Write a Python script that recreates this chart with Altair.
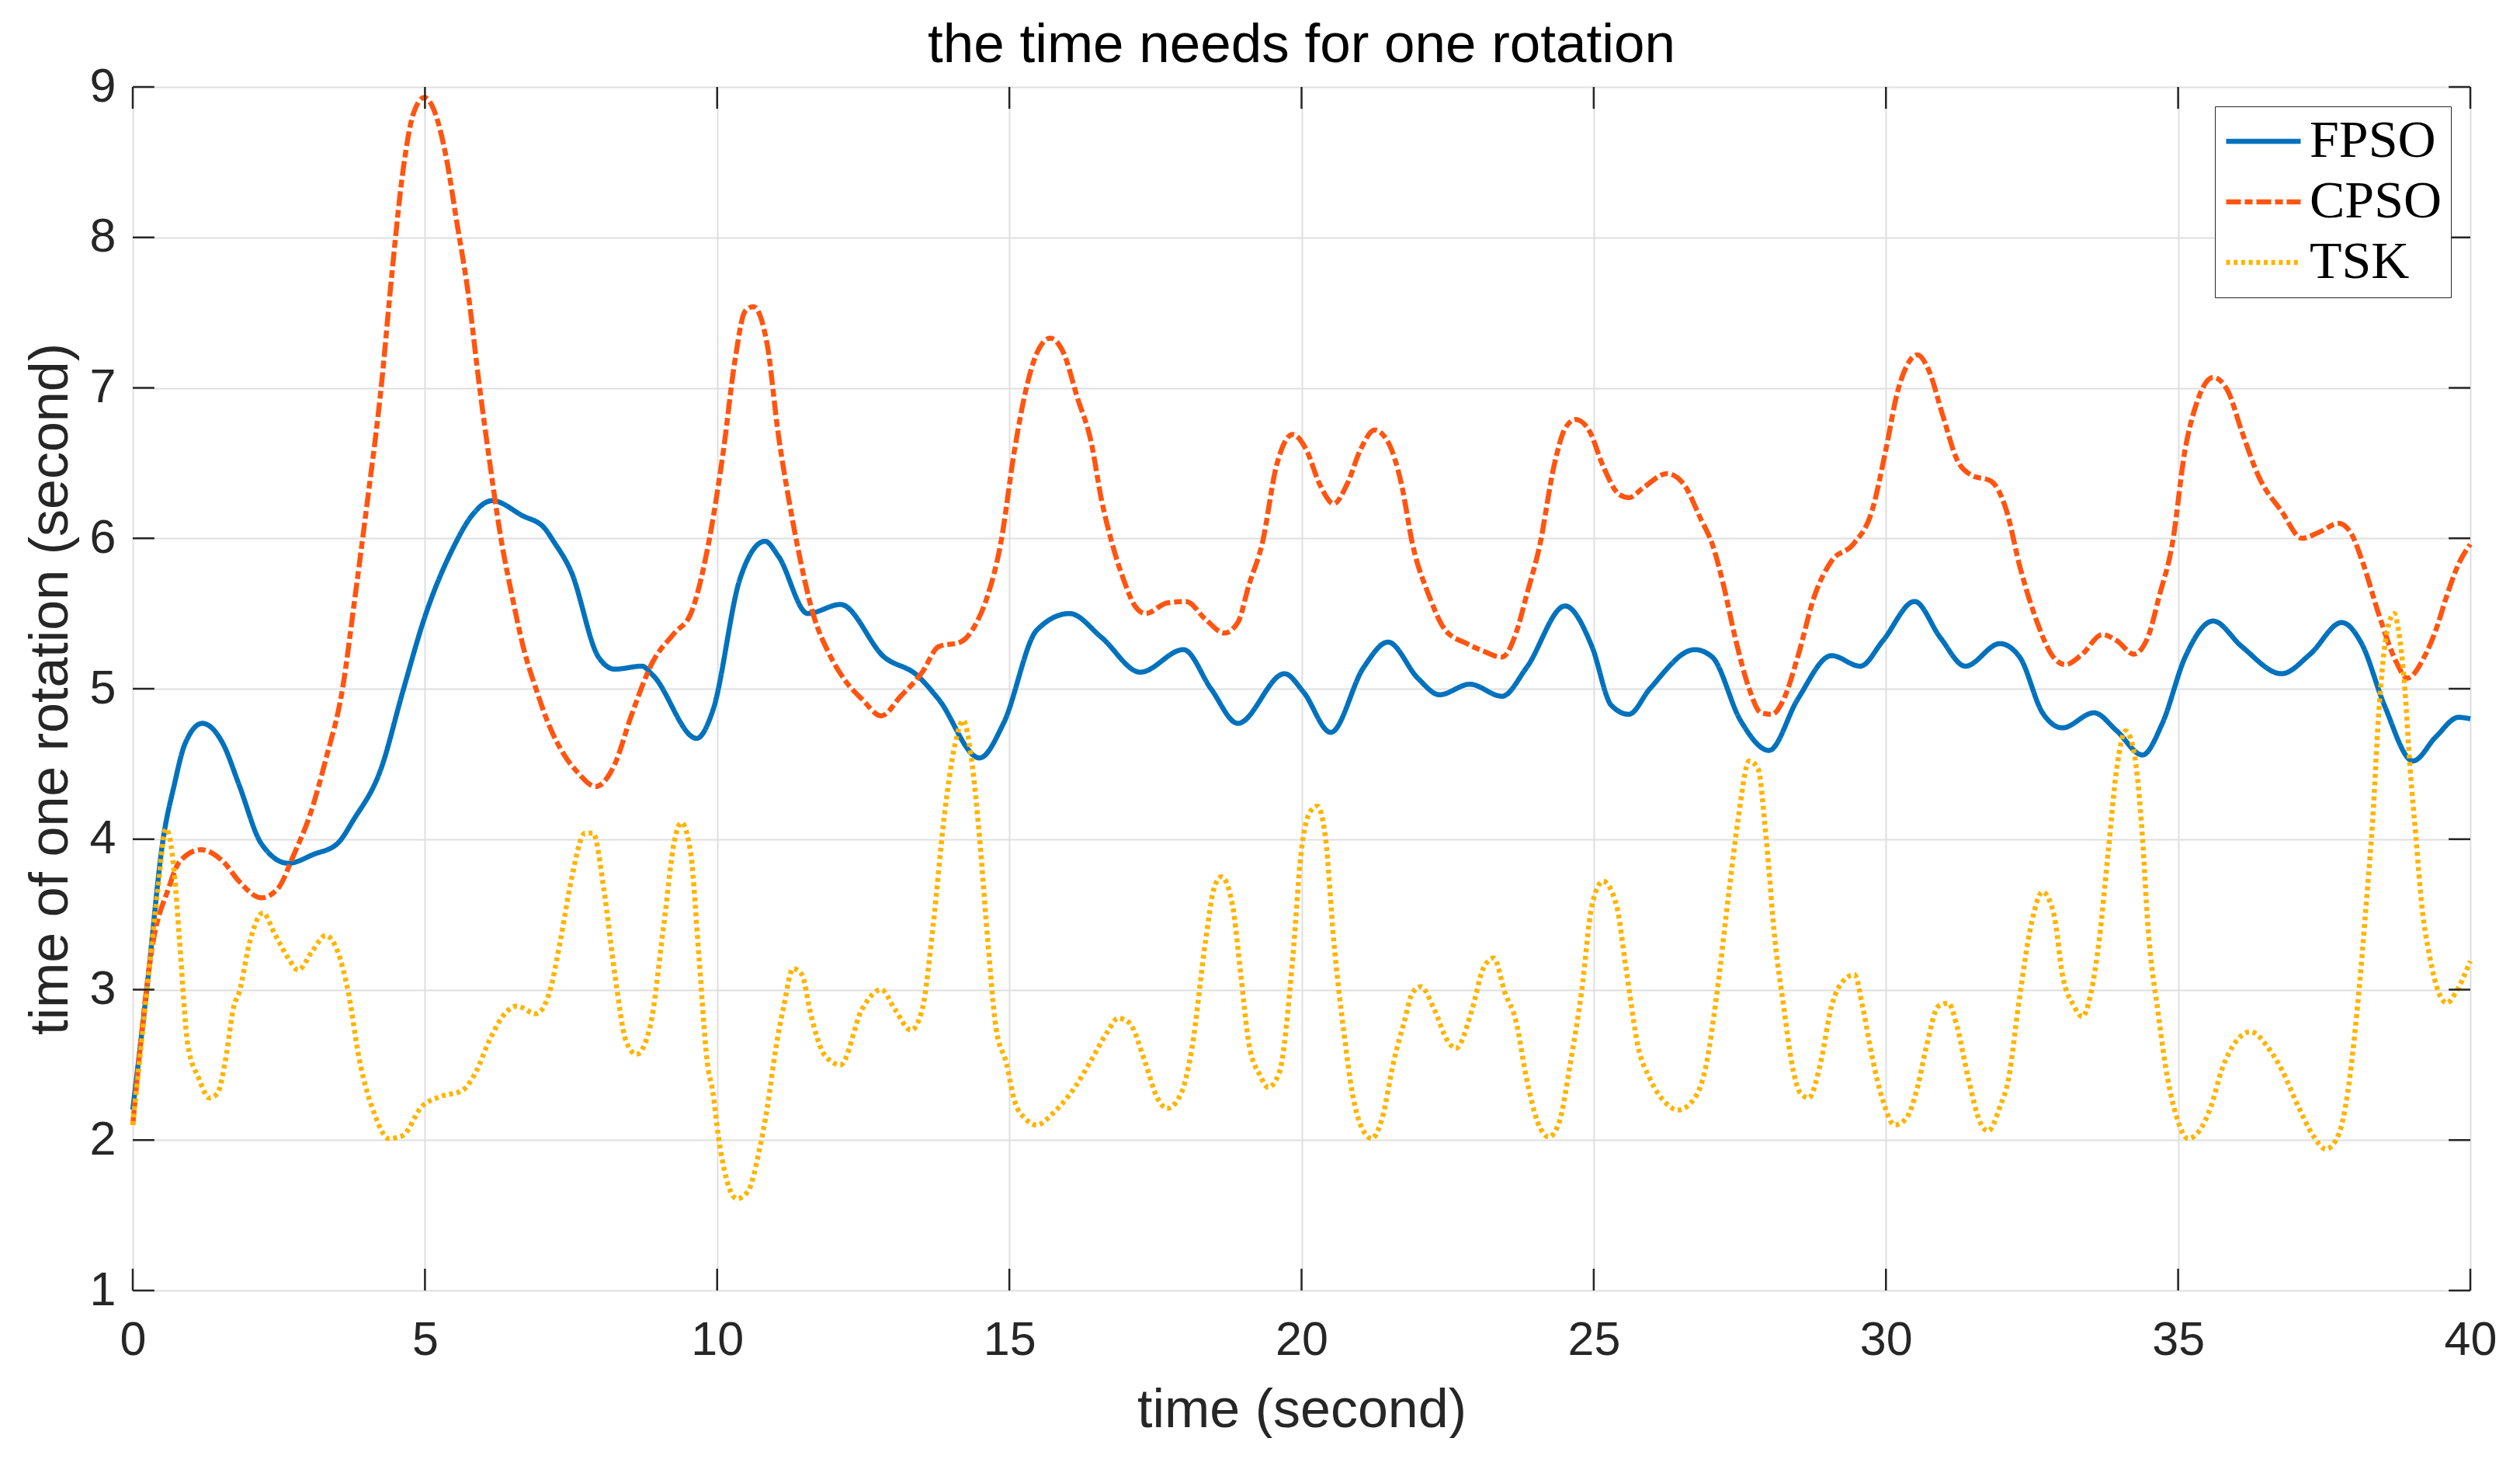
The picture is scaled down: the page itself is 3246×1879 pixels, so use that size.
import altair as alt
import pandas as pd

# ---------------- data ----------------
fpso_t = [0, 0.24, 0.52, 0.71, 0.89, 1.19, 1.55, 1.82, 2.2, 2.66, 3.1, 3.5, 3.78, 4.25, 4.62, 5.0,
          5.5, 5.8, 6.15, 6.67, 7.04, 7.2, 7.5, 7.97, 8.25, 8.71, 8.9, 9.65, 9.93, 10.39, 10.82, 11.05,
          11.55, 12.11, 12.86, 13.42, 13.79, 14.49, 14.9, 15.47, 16.03, 16.58, 17.24, 17.98, 18.45,
          18.91, 19.71, 20.03, 20.5, 21.06, 21.48, 21.99, 22.36, 22.88, 23.43, 23.85, 24.51, 24.97,
          25.3, 25.6, 25.96, 26.73, 27.03, 27.51, 28.0, 28.49, 29.07, 29.56, 29.95, 30.49, 30.93,
          31.36, 31.95, 32.29, 32.68, 33.02, 33.56, 33.95, 34.39, 34.73, 35.12, 35.6, 36.09, 36.77,
          37.26, 37.8, 38.14, 38.53, 39.02, 39.41, 39.8, 40.0]
fpso_v = [2.2, 3.0, 4.0, 4.36, 4.63, 4.77, 4.63, 4.36, 3.97, 3.84, 3.9, 3.97, 4.13, 4.47, 4.98, 5.48,
          5.95, 6.15, 6.25, 6.15, 6.07, 5.98, 5.78, 5.21, 5.13, 5.15, 5.09, 4.67, 4.86, 5.73, 5.98, 5.88,
          5.5, 5.56, 5.21, 5.09, 4.93, 4.54, 4.77, 5.39, 5.5, 5.34, 5.11, 5.26, 5.0,
          4.77, 5.1, 4.98, 4.71, 5.14, 5.31, 5.07, 4.96, 5.03, 4.95, 5.14, 5.55, 5.28,
          4.89, 4.83, 5.0, 5.26, 5.21, 4.79, 4.59, 4.93, 5.22, 5.15, 5.32, 5.58, 5.34,
          5.15, 5.3, 5.21, 4.84, 4.74, 4.84, 4.72, 4.56, 4.77, 5.21, 5.45, 5.28, 5.1,
          5.23, 5.44, 5.3, 4.89, 4.52, 4.68, 4.81, 4.8]

cpso_t = [0, 0.34, 0.61, 0.8, 1.17, 1.55, 1.82, 2.2, 2.48, 2.76, 3.04, 3.31, 3.59, 3.8, 4.0, 4.25,
          4.43, 4.62, 4.8, 4.99, 5.18, 5.36, 5.55, 5.74, 5.92, 6.11, 6.3, 6.5, 6.7, 6.9, 7.1,
          7.4, 7.6, 7.92, 8.25, 8.53, 8.9, 9.27, 9.55, 9.83, 10.11, 10.3, 10.48, 10.62, 10.86, 11.04,
          11.23, 11.4, 11.64, 11.92, 12.2, 12.48, 12.81, 13.14, 13.51, 13.79, 14.16, 14.44, 14.63,
          14.85, 15.09, 15.28, 15.47, 15.7, 15.93, 16.16, 16.4, 16.58, 16.77, 16.96, 17.15, 17.33, 17.7,
          18.03, 18.36, 18.68, 18.91, 19.1, 19.33, 19.57, 19.85, 20.08, 20.31, 20.55, 20.78, 21.01,
          21.25, 21.48, 21.71, 21.9, 22.18, 22.46, 22.83, 23.11, 23.43, 23.67, 23.85, 24.08, 24.32,
          24.51, 24.69, 24.93, 25.16, 25.44, 25.6, 25.86, 26.25, 26.54, 26.83, 27.03, 27.22, 27.42,
          27.66, 27.86, 28.05, 28.25, 28.49, 28.78, 29.07, 29.44, 29.76, 30.0, 30.19, 30.39, 30.54,
          30.73, 30.97, 31.22, 31.46, 31.8, 32.05, 32.3, 32.58, 32.83, 33.07, 33.36, 33.7,
          33.95, 34.24, 34.48, 34.68, 34.9, 35.12, 35.31, 35.6, 35.85, 36.09, 36.38, 36.77, 37.12,
          37.41, 37.75, 37.95, 38.15, 38.43, 38.73, 38.92, 39.21, 39.41, 39.6, 39.8, 40.0]
cpso_v = [2.1, 3.3, 3.67, 3.85, 3.93, 3.85, 3.72, 3.61, 3.67, 3.9, 4.17, 4.54, 5.0, 5.6, 6.2, 7.0,
          7.74, 8.43, 8.82, 8.93, 8.82, 8.54, 8.09, 7.63, 7.05, 6.5, 6.0, 5.6, 5.25, 5.0, 4.78,
          4.55, 4.45, 4.35, 4.5, 4.82, 5.18, 5.37, 5.5, 5.92, 6.59, 7.17, 7.51, 7.54, 7.28, 6.71,
          6.25, 5.9, 5.5, 5.23, 5.05, 4.93, 4.82, 4.95, 5.11, 5.28, 5.31, 5.44, 5.62,
          5.96, 6.59, 6.98, 7.23, 7.33, 7.23, 6.94, 6.64, 6.25, 5.95, 5.72, 5.55, 5.5, 5.57,
          5.58, 5.46, 5.37, 5.44, 5.69, 5.97, 6.48, 6.69, 6.59, 6.36, 6.23, 6.36, 6.59,
          6.72, 6.64, 6.36, 5.96, 5.62, 5.39, 5.3, 5.25, 5.21, 5.37, 5.62, 5.96, 6.48,
          6.73, 6.79, 6.71, 6.48, 6.29, 6.27, 6.34, 6.43, 6.36, 6.13, 5.96, 5.69, 5.34,
          5.0, 4.84, 4.83, 4.93, 5.21, 5.62, 5.85, 5.96, 6.18, 6.59, 6.96, 7.17, 7.22,
          7.12, 6.82, 6.52, 6.42, 6.38, 6.2, 5.8, 5.45, 5.23, 5.16, 5.23, 5.36,
          5.32, 5.23, 5.34, 5.62, 5.96, 6.59, 6.89, 7.07, 6.98, 6.71, 6.41, 6.18, 6.0,
          6.04, 6.1, 6.04, 5.85, 5.5, 5.18, 5.07, 5.21, 5.39, 5.62, 5.83, 5.96]

tsk_t = [0, 0.24, 0.43, 0.57, 0.71, 0.8, 0.94, 1.13, 1.31, 1.45, 1.59, 1.73, 1.82, 2.01, 2.23, 2.43,
         2.66, 2.83, 3.08, 3.3, 3.5, 3.69, 3.87, 4.15, 4.38, 4.62, 4.94, 5.27, 5.64, 5.87, 6.1,
         6.39, 6.57, 6.9, 7.13, 7.32, 7.5, 7.74, 7.88, 8.06, 8.25, 8.44, 8.62, 8.85, 9.09, 9.27,
         9.39, 9.55, 9.69, 9.83, 9.93, 10.02, 10.16, 10.34, 10.53, 10.72, 10.86, 11.0, 11.14,
         11.3, 11.45, 11.6, 11.83, 12.11, 12.48, 12.81, 13.04, 13.32, 13.51, 13.7, 13.88, 14.07,
         14.21, 14.35, 14.49, 14.63, 14.77, 14.95, 15.09, 15.28, 15.47, 15.75, 16.12, 16.4, 16.68,
         16.86, 17.05, 17.33, 17.52, 17.7, 17.94, 18.12, 18.36, 18.5, 18.63, 18.82, 18.96, 19.1,
         19.29, 19.43, 19.62, 19.85, 19.99, 20.13, 20.27, 20.41, 20.55, 20.73, 20.87, 21.06, 21.2,
         21.39, 21.57, 21.76, 21.9, 22.04, 22.27, 22.5, 22.64, 22.92, 23.11, 23.29, 23.48, 23.67,
         23.85, 24.04, 24.23, 24.41, 24.6, 24.79, 24.97, 25.16, 25.39, 25.55, 25.76, 25.96, 26.25,
         26.44, 26.73, 26.93, 27.1, 27.32, 27.47, 27.66, 27.81, 27.95, 28.1, 28.25, 28.39, 28.54,
         28.68, 28.88, 29.07, 29.2, 29.46, 29.61, 29.76, 29.95, 30.15, 30.34, 30.54, 30.68, 30.9,
         31.07, 31.22, 31.41, 31.61, 31.75, 31.95, 32.1, 32.27, 32.49, 32.68, 32.88, 33.02, 33.22,
         33.36, 33.51, 33.65, 33.8, 33.95, 34.1, 34.24, 34.39, 34.48, 34.66, 34.82, 34.97, 35.17,
         35.36, 35.56, 35.75, 36.0, 36.24, 36.53, 36.77, 37.06, 37.31, 37.53, 37.75, 37.9, 38.06,
         38.24, 38.33, 38.43, 38.58, 38.7, 38.77, 38.87, 38.97, 39.07, 39.17, 39.31, 39.46, 39.6,
         39.75, 40.0]
tsk_v = [2.1, 2.98, 3.67, 4.07, 3.78, 3.33, 2.64, 2.41, 2.28, 2.31, 2.54, 2.89, 2.98, 3.33, 3.51, 3.37,
         3.21, 3.13, 3.26, 3.36, 3.26, 2.98, 2.55, 2.16, 2.01, 2.03, 2.22, 2.29, 2.33, 2.45, 2.66,
         2.85, 2.89, 2.84, 2.98, 3.33, 3.72, 4.04, 4.04, 3.67, 3.1, 2.66, 2.57, 2.75, 3.44, 3.99,
         4.11, 3.9, 3.21, 2.52, 2.31, 2.03, 1.74, 1.61, 1.66, 1.93, 2.22, 2.6, 2.89,
         3.14, 3.1, 2.84, 2.57, 2.5, 2.87, 3.0, 2.87, 2.73, 2.87, 3.44, 4.13, 4.63,
         4.79, 4.54, 4.01, 3.33, 2.75, 2.51, 2.26, 2.14, 2.1, 2.18, 2.35, 2.53, 2.72,
         2.81, 2.78, 2.51, 2.29, 2.21, 2.31, 2.6, 3.33, 3.67, 3.75, 3.56, 3.1, 2.64,
         2.43, 2.35, 2.45, 3.21, 3.9, 4.17, 4.22, 4.01, 3.33, 2.7, 2.31, 2.06, 2.01,
         2.16, 2.51, 2.79, 2.98, 3.02, 2.87, 2.66, 2.61, 2.87, 3.14, 3.21, 2.98, 2.79,
         2.41, 2.12, 2.02, 2.12, 2.51, 2.98, 3.56, 3.72, 3.56, 3.15, 2.62, 2.41, 2.24,
         2.2, 2.28, 2.51, 2.95, 3.67, 4.13, 4.52, 4.47, 4.01, 3.33, 2.89, 2.51, 2.31,
         2.28, 2.51, 2.89, 3.02, 3.1, 2.87, 2.56, 2.26, 2.1, 2.14, 2.35, 2.6, 2.89,
         2.91, 2.75, 2.41, 2.12, 2.06, 2.22, 2.41, 2.9, 3.44, 3.65, 3.49, 3.1, 2.89,
         2.82, 2.98, 3.33, 3.9, 4.47, 4.72, 4.59, 4.01, 3.44, 2.84, 2.41, 2.16, 2.01,
         2.06, 2.22, 2.47, 2.66, 2.72, 2.62, 2.47, 2.22, 2.03, 1.94, 2.04, 2.31, 2.85,
         3.67, 4.13, 4.82, 5.39, 5.5, 5.39, 5.05, 4.47, 4.01, 3.56, 3.21, 2.98, 2.91,
         2.98, 3.19]

series_names = ["FPSO", "CPSO", "TSK"]
series_colors = ["#0072BD", "#FF5510", "#FFB400"]
series_dashes = [[1, 0], [19, 5, 10, 5], [5, 4.7]]

x_ticks = [0, 5, 10, 15, 20, 25, 30, 35, 40]
y_ticks = [1, 2, 3, 4, 5, 6, 7, 8, 9]

# ---------------- tables ----------------
rows = []
for name, ts, vs in [("FPSO", fpso_t, fpso_v), ("CPSO", cpso_t, cpso_v), ("TSK", tsk_t, tsk_v)]:
    for i, (t, v) in enumerate(zip(ts, vs)):
        rows.append({"series": name, "t": t, "v": v, "i": i})
df = pd.DataFrame(rows)

# inward tick marks (MATLAB style), expressed in data units
xlen = 0.37    # tick length along x in data units
ylen = 0.145   # tick length along y in data units
xt = pd.DataFrame({"t": x_ticks})
yt = pd.DataFrame({"v": y_ticks})

AX = "#262626"
FONT = "Liberation Sans"

xscale = alt.Scale(domain=[0, 40], nice=False, zero=False)
yscale = alt.Scale(domain=[1, 9], nice=False, zero=False)

xaxis = alt.Axis(values=x_ticks, format="d", title="time (second)", grid=True, ticks=False, domain=False,
                 labelFontSize=61, labelFont=FONT, labelColor=AX, labelPadding=34,
                 titleFontSize=70, titleFont=FONT, titleColor=AX, titleFontWeight="normal",
                 titlePadding=26, gridColor="#DFDFDF", gridWidth=2, labelFlush=False)
yaxis = alt.Axis(values=y_ticks, format="d", title="time of one rotation (second)", grid=True, ticks=False,
                 domain=False, labelFontSize=61, labelFont=FONT, labelColor=AX, labelPadding=22,
                 titleFontSize=70, titleFont=FONT, titleColor=AX, titleFontWeight="normal",
                 titlePadding=14, gridColor="#DFDFDF", gridWidth=2, labelFlush=False)

legend_props = dict(
    title=None, orient="top-right", offset=25, padding=11,
    strokeColor=AX, fillColor="white", cornerRadius=0,
    labelFont="Liberation Serif", labelFontSize=68, labelColor="black",
    symbolType="stroke", symbolSize=9216, symbolStrokeWidth=6.5,
    labelOffset=8, rowPadding=10, labelLimit=400, clipHeight=68,
)

lines = alt.Chart(df).mark_line(strokeWidth=6.5, strokeCap="butt", interpolate="monotone").encode(
    x=alt.X("t:Q", scale=xscale, axis=xaxis),
    y=alt.Y("v:Q", scale=yscale, axis=yaxis),
    color=alt.Color("series:N", scale=alt.Scale(domain=series_names, range=series_colors),
                    legend=alt.Legend(**legend_props)),
    strokeDash=alt.StrokeDash("series:N", scale=alt.Scale(domain=series_names, range=series_dashes),
                              legend=alt.Legend(**legend_props)),
    order="i:Q",
)

tick_style = dict(color=AX, strokeWidth=2.5)
xt_bottom = alt.Chart(xt).transform_calculate(y0="1", y1=f"1+{ylen}").mark_rule(**tick_style).encode(
    x="t:Q", y="y0:Q", y2="y1:Q")
xt_top = alt.Chart(xt).transform_calculate(y0="9", y1=f"9-{ylen}").mark_rule(**tick_style).encode(
    x="t:Q", y="y0:Q", y2="y1:Q")
yt_left = alt.Chart(yt).transform_calculate(x0="0", x1=f"{xlen}").mark_rule(**tick_style).encode(
    y="v:Q", x="x0:Q", x2="x1:Q")
yt_right = alt.Chart(yt).transform_calculate(x0="40", x1=f"40-{xlen}").mark_rule(**tick_style).encode(
    y="v:Q", x="x0:Q", x2="x1:Q")

chart = alt.layer(lines, xt_bottom, xt_top, yt_left, yt_right).properties(
    width=3011,
    height=1550,
    title=alt.TitleParams("the time needs for one rotation", fontSize=71, font=FONT,
                          fontWeight="normal", color="black", offset=14, anchor="middle", dy=28),
    padding={"left": 163, "top": 104, "right": 40, "bottom": 190},
    autosize=alt.AutoSizeParams(type="none"),
).configure_view(
    stroke=AX, strokeWidth=2.5
).configure_legend(
    strokeWidth=2
).configure(background="white")

chart.save("out.html", embed_options={"renderer": "svg", "actions": False})
